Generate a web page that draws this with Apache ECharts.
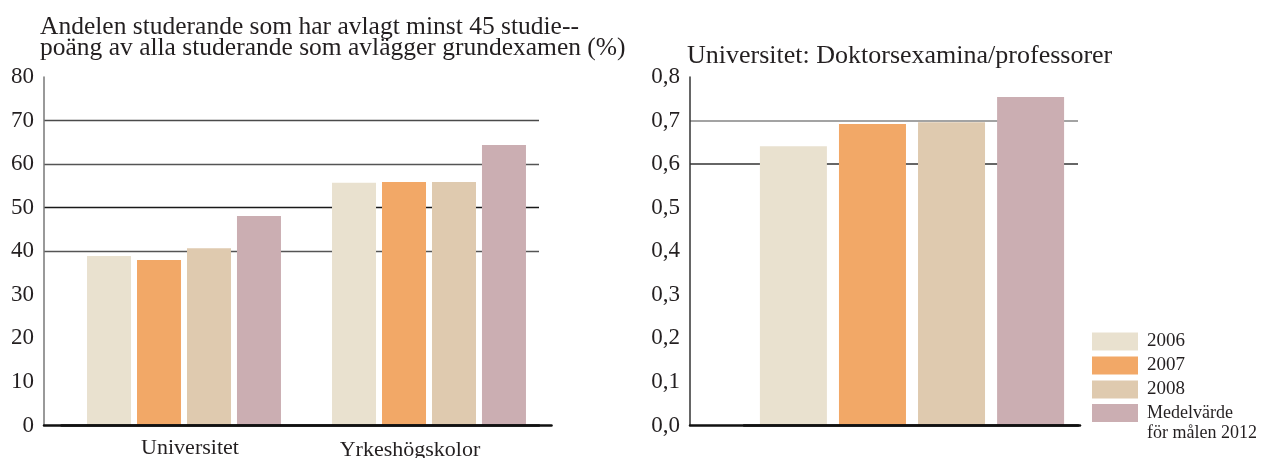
<!DOCTYPE html>
<html>
<head>
<meta charset="utf-8">
<script src="https://cdn.jsdelivr.net/npm/echarts@6/dist/echarts.min.js"></script>
<style>
html,body{margin:0;padding:0;background:#fff;}
#chart{width:1261px;height:458px;}
</style>
</head>
<body>
<div id="chart"></div>
<script>
// ---- data ----
const categories = ['Universitet', 'Yrkeshögskolor'];
const seriesNames = ['2006', '2007', '2008', 'Medelvärde\nför målen 2012'];
const share2006 = [38.9, 55.7];
const share2007 = [38.0, 55.9];
const share2008 = [40.7, 55.9];
const shareGoal = [48.1, 64.4];
const doctorRatio = [0.641, 0.692, 0.696, 0.754]; // 2006, 2007, 2008, Medelvärde
const leftTicks = ['0', '10', '20', '30', '40', '50', '60', '70', '80'];
const rightTicks = ['0,0', '0,1', '0,2', '0,3', '0,4', '0,5', '0,6', '0,7', '0,8'];
const leftTitle = 'Andelen studerande som har avlagt minst 45 studie--\npoäng av alla studerande som avlägger grundexamen (%)';
const rightTitle = 'Universitet: Doktorsexamina/professorer';

const colors = ['#E9E1CF', '#F2A867', '#DFCAAF', '#CBAEB2'];
const FONT = '"Liberation Serif", "DejaVu Serif", serif';
const TXT = '#231f20';
const T = 'rgba(0,0,0,0)';

const chart = echarts.init(document.getElementById('chart'), null, {renderer: 'canvas'});

const leftSeriesData = [share2006, share2007, share2008, shareGoal];

const series = [];
seriesNames.forEach((name, i) => {
  series.push({
    name: name, type: 'bar', xAxisIndex: 1, yAxisIndex: 1,
    data: leftSeriesData[i], barWidth: 44, barGap: '13.6%',
    itemStyle: {color: colors[i]}, emphasis: {disabled: true}
  });
});
seriesNames.forEach((name, i) => {
  series.push({
    name: name, type: 'bar', xAxisIndex: 3, yAxisIndex: 3,
    data: [doctorRatio[i]], barWidth: 67, barGap: '18%',
    itemStyle: {color: colors[i]}, emphasis: {disabled: true}
  });
});

const gridTop = 77, gridH = 348.5;

const option = {
  animation: false,
  color: colors,
  title: [
    {text: leftTitle, left: 40, top: 16.5, padding: 0,
     textStyle: {fontFamily: FONT, fontSize: 25.5, lineHeight: 21.5, fontWeight: 'normal', color: TXT}},
    {text: rightTitle, left: 687, top: 46, padding: 0,
     textStyle: {fontFamily: FONT, fontSize: 26, lineHeight: 21, fontWeight: 'normal', color: TXT}}
  ],
  legend: [
    {data: seriesNames.slice(0, 3), orient: 'vertical', left: 1092, top: 332, padding: 0,
     itemWidth: 46, itemHeight: 18, itemGap: 5, icon: 'rect',
     textStyle: {fontFamily: FONT, fontSize: 19, lineHeight: 18, color: TXT, padding: [0, 0, 0, 4]}},
    {data: [seriesNames[3]], orient: 'vertical', left: 1092, top: 383, padding: 0,
     itemWidth: 46, itemHeight: 18, icon: 'rect',
     formatter: name => '\n' + name,
     textStyle: {fontFamily: FONT, fontSize: 18, lineHeight: 20, color: TXT, padding: [0, 0, 0, 4]}}
  ],
  grid: [
    {left: 44, width: 495, top: gridTop, height: gridH, outerBoundsMode: 'none', containLabel: false},
    {left: 61.5, width: 490, top: gridTop, height: gridH, outerBoundsMode: 'none', containLabel: false},
    {left: 690, width: 388, top: gridTop, height: gridH, outerBoundsMode: 'none', containLabel: false},
    {left: 744, width: 336, top: gridTop, height: gridH, outerBoundsMode: 'none', containLabel: false}
  ],
  xAxis: [
    {gridIndex: 0, type: 'category', data: [''], z: 5,
     axisLine: {lineStyle: {color: '#111', width: 2.5}}, axisTick: {show: false}, axisLabel: {show: false}},
    {gridIndex: 1, type: 'category', data: categories, z: 5,
     axisLine: {lineStyle: {color: '#111', width: 2.5}}, axisTick: {show: false},
     axisLabel: {margin: 12, color: TXT, fontFamily: FONT, fontSize: 22,
       formatter: (v, idx) => '{c' + idx + '|' + v + '}',
       rich: {
         c0: {fontFamily: FONT, fontSize: 22, color: TXT, padding: [0, 0, 0, 12]},
         c1: {fontFamily: FONT, fontSize: 22, color: TXT, padding: [2, 38, 0, 0]}
       }}},
    {gridIndex: 2, type: 'category', data: [''], z: 5,
     axisLine: {lineStyle: {color: '#111', width: 2.5}}, axisTick: {show: false}, axisLabel: {show: false}},
    {gridIndex: 3, type: 'category', data: [''], z: 5,
     axisLine: {lineStyle: {color: '#111', width: 2.5}}, axisTick: {show: false}, axisLabel: {show: false}}
  ],
  yAxis: [
    {gridIndex: 0, type: 'value', min: 0, max: 80, interval: 10,
     axisLine: {show: true, lineStyle: {color: '#777', width: 1.5}}, axisTick: {show: false},
     axisLabel: {margin: 10, color: TXT, fontFamily: FONT, fontSize: 23,
       formatter: v => leftTicks[Math.round(v / 10)]},
     splitLine: {show: true, lineStyle: {width: 1.3,
       color: [T, T, T, T, '#555', '#1a1a1a', '#555', '#4a4a4a', T]}}},
    {gridIndex: 1, type: 'value', min: 0, max: 80, interval: 10, show: false, splitLine: {show: false}},
    {gridIndex: 2, type: 'value', min: 0, max: 0.8, interval: 0.1,
     axisLine: {show: true, lineStyle: {color: '#333', width: 1.5}}, axisTick: {show: false},
     axisLabel: {margin: 10, color: TXT, fontFamily: FONT, fontSize: 23,
       formatter: v => rightTicks[Math.round(v * 10)]},
     splitLine: {show: true, lineStyle: {width: 1.5,
       color: [T, T, T, T, T, T, '#333', '#858585', T]}}},
    {gridIndex: 3, type: 'value', min: 0, max: 0.8, interval: 0.1, show: false, splitLine: {show: false}}
  ],
  series: series
};
chart.setOption(option);
</script>
</body>
</html>
